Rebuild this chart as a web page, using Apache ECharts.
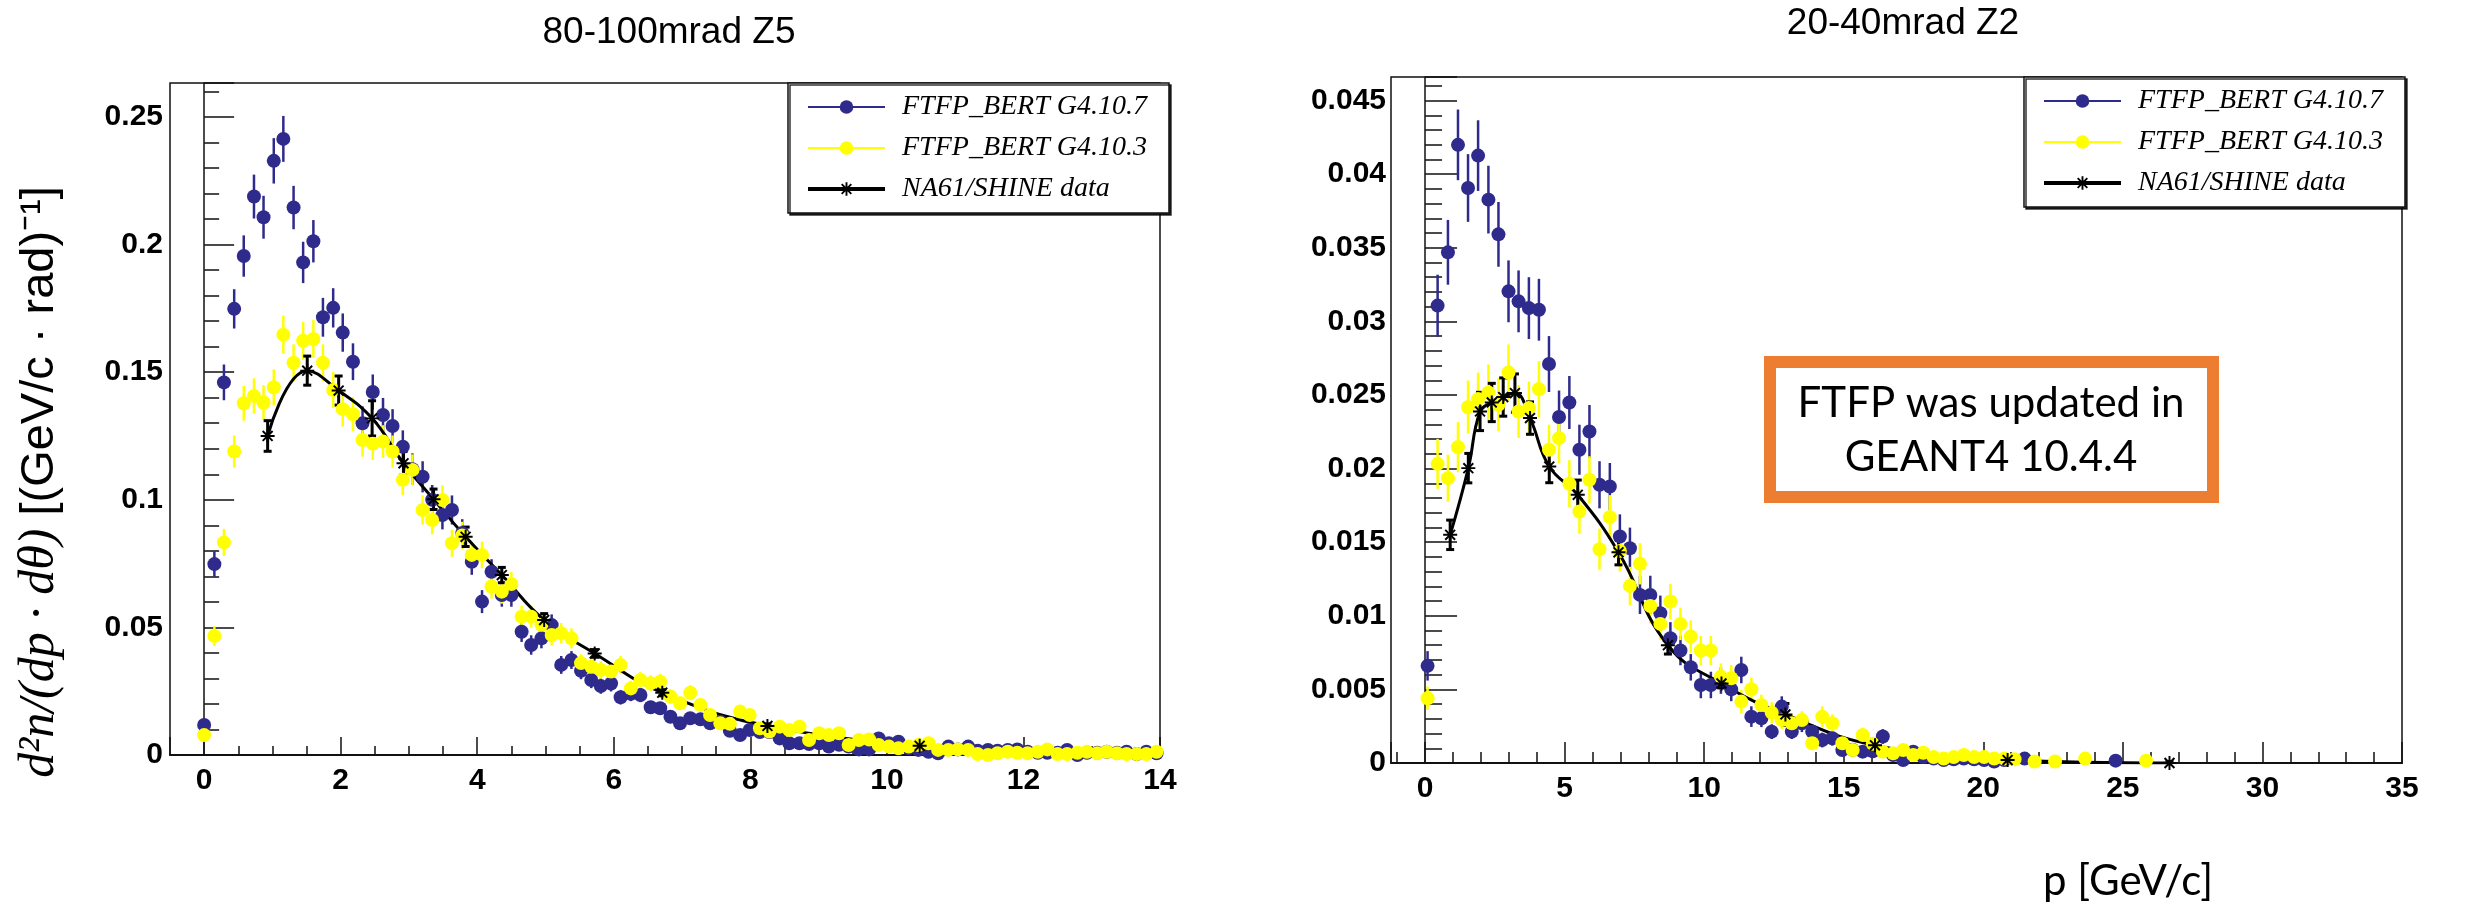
<!DOCTYPE html>
<html>
<head>
<meta charset="utf-8">
<title>FTFP_BERT vs NA61/SHINE</title>
<script src="https://cdn.jsdelivr.net/npm/echarts@6/dist/echarts.min.js"></script>
<style>
  html, body { margin: 0; padding: 0; background: #ffffff; }
  #chart { width: 2484px; height: 904px; }
</style>
</head>
<body>
<div id="chart"></div>
<script>
// ---------- 80-100 mrad, Z5 slice ----------
const pLeft = [0.00,0.15,0.29,0.44,0.58,0.73,0.87,1.02,1.16,1.31,1.45,1.60,1.74,1.89,2.03,2.18,2.32,2.47,2.62,2.76,
  2.91,3.05,3.20,3.34,3.49,3.63,3.78,3.92,4.07,4.21,4.36,4.50,4.65,4.79,4.94,5.09,5.23,5.38,5.52,5.67,
  5.81,5.96,6.10,6.25,6.39,6.54,6.68,6.83,6.97,7.12,7.27,7.41,7.56,7.70,7.85,7.99,8.14,8.28,8.43,8.57,
  8.72,8.86,9.01,9.15,9.30,9.44,9.59,9.74,9.88,10.03,10.17,10.32,10.46,10.61,10.75,10.90,11.04,11.19,11.33,11.48,
  11.62,11.77,11.91,12.06,12.21,12.35,12.50,12.64,12.79,12.93,13.08,13.22,13.37,13.51,13.66,13.80,13.95];

const g4107Left = [0.0118,0.0748,0.146,0.1748,0.1955,0.2188,0.2107,0.2328,0.2414,0.2145,0.193,0.2013,0.1715,0.1752,0.1655,0.1541,0.130,0.1422,0.1332,0.1289,
  0.1208,0.112,0.109,0.100,0.094,0.096,0.087,0.0757,0.0601,0.0718,0.0627,0.0627,0.0483,0.0431,0.0457,0.0509,0.0353,0.0372,0.033,0.0294,
  0.027,0.028,0.0226,0.024,0.0235,0.0187,0.0183,0.015,0.0124,0.0144,0.014,0.0124,0.013,0.0095,0.0078,0.0098,0.009,0.009,0.0065,0.0046,
  0.0046,0.0043,0.0046,0.0033,0.004,0.0033,0.0022,0.0022,0.0065,0.0046,0.0052,0.0026,0.002,0.0013,0.0007,0.0033,0.0022,0.0033,0.0017,0.002,
  0.0017,0.002,0.0022,0.0013,0.0009,0.0009,0.0009,0.002,0.0,0.0009,0.0009,0.0013,0.0009,0.0013,0.0004,0.0013,0.0007];

const g4107LeftErr = [0.0020,0.0050,0.0070,0.0077,0.0081,0.0086,0.0084,0.0089,0.0090,0.0085,0.0081,0.0083,0.0076,0.0077,0.0075,0.0072,0.0066,0.0069,0.0067,0.0066,
  0.0064,0.0062,0.0061,0.0058,0.0056,0.0057,0.0054,0.0051,0.0045,0.0049,0.0046,0.0046,0.0040,0.0038,0.0039,0.0042,0.0035,0.0035,0.0033,0.0032,
  0.0030,0.0031,0.0028,0.0029,0.0028,0.0025,0.0025,0.0023,0.0020,0.0022,0.0022,0.0020,0.0021,0.0018,0.0016,0.0018,0.0017,0.0017,0.0015,0.0012,
  0.0012,0.0012,0.0012,0.0011,0.0012,0.0011,0.0009,0.0009,0.0015,0.0012,0.0013,0.0009,0.0008,0.0007,0.0005,0.0011,0.0009,0.0011,0.0008,0.0008,
  0.0008,0.0008,0.0009,0.0007,0.0006,0.0006,0.0006,0.0008,0.0003,0.0006,0.0006,0.0007,0.0006,0.0007,0.0004,0.0007,0.0005];

const g4103Left = [0.0078,0.0466,0.0833,0.1189,0.1378,0.1407,0.1381,0.1441,0.1647,0.1537,0.1623,0.163,0.1537,0.143,0.1355,0.1335,0.1234,0.122,0.1228,0.1189,
  0.1078,0.1117,0.096,0.0921,0.0999,0.083,0.086,0.0784,0.0784,0.066,0.064,0.067,0.0542,0.0542,0.051,0.047,0.0477,0.0457,0.036,0.0346,
  0.0333,0.0327,0.0353,0.0261,0.0294,0.0281,0.0287,0.0229,0.0203,0.0244,0.0196,0.0157,0.0124,0.0122,0.017,0.0157,0.0105,0.0092,0.0111,0.0098,
  0.0111,0.0059,0.0085,0.0078,0.0085,0.0039,0.0059,0.0061,0.0039,0.0033,0.0026,0.0033,0.0039,0.0046,0.002,0.002,0.0022,0.002,0.0004,0.0,
  0.0007,0.0013,0.0009,0.0007,0.0013,0.0022,0.0004,0.0004,0.0009,0.0013,0.0007,0.0013,0.0007,0.0004,0.0004,0.0004,0.0013];

const g4103LeftErr = [0.0016,0.0039,0.0053,0.0063,0.0068,0.0069,0.0068,0.0070,0.0075,0.0072,0.0074,0.0074,0.0072,0.0070,0.0068,0.0067,0.0065,0.0064,0.0064,0.0063,
  0.0060,0.0061,0.0057,0.0056,0.0058,0.0053,0.0054,0.0052,0.0052,0.0047,0.0047,0.0048,0.0043,0.0043,0.0042,0.0040,0.0040,0.0039,0.0035,0.0034,
  0.0034,0.0033,0.0035,0.0030,0.0032,0.0031,0.0031,0.0028,0.0026,0.0029,0.0026,0.0023,0.0020,0.0020,0.0024,0.0023,0.0019,0.0018,0.0019,0.0018,
  0.0019,0.0014,0.0017,0.0016,0.0017,0.0011,0.0014,0.0014,0.0011,0.0011,0.0009,0.0011,0.0011,0.0012,0.0008,0.0008,0.0009,0.0008,0.0004,0.0003,
  0.0005,0.0007,0.0006,0.0005,0.0007,0.0009,0.0004,0.0004,0.0006,0.0007,0.0005,0.0007,0.0005,0.0004,0.0004,0.0004,0.0007];

const na61LeftP   = [0.93,1.51,1.97,2.46,2.92,3.36,3.83,4.36,4.98,5.72,6.71,8.25,10.48];
const na61Left    = [0.125,0.1506,0.1428,0.1319,0.1143,0.1002,0.0855,0.0705,0.0529,0.0398,0.0244,0.0114,0.0036];
const na61LeftErr = [0.0060,0.0057,0.0057,0.0069,0.0046,0.0040,0.0038,0.0030,0.0025,0.0015,0.0012,0.0008,0.0006];

// ---------- 20-40 mrad, Z2 slice ----------
const pRight = [0.09,0.45,0.82,1.18,1.54,1.90,2.27,2.63,2.99,3.35,3.72,4.08,4.44,4.80,5.17,5.53,5.89,6.25,6.62,6.98,
  7.34,7.70,8.07,8.43,8.79,9.15,9.52,9.88,10.24,10.60,10.97,11.33,11.69,12.05,12.42,12.78,13.14,13.50,13.87,14.23,
  14.59,14.95,15.32,15.68,16.04,16.40,16.77,17.13,17.49,17.85,18.22,18.58,18.94,19.30,19.67,20.03,20.39,20.75,21.12,21.48,
  21.84,22.20,22.57,22.93,23.29,23.65,24.02,24.38,24.74,25.10,25.47,25.83];

const g4107Right = [0.0066,0.03107,0.03469,0.04199,0.03906,0.04126,0.03827,0.03591,0.03204,0.03136,
  0.0309,0.03079,0.0271,0.0235,0.02449,0.02128,0.02252,0.0189,0.01878,0.01539,
  0.01459,0.01142,0.01142,0.01017,0.00847,0.00764,0.0065,0.0053,0.0053,0.0056,
  0.0050,0.00632,0.00315,0.00304,0.00213,0.00383,0.00213,0.0027,0.00213,0.00156,
  0.00168,0.00088,0.0009,0.00077,0.0008,0.0018,0.00054,0.0002,0.00077,0.0004,
  0.0003,0.0002,0.00025,0.0003,0.00025,0.0002,0.0001,0.0002,null,0.0003,
  null,null,null,null,null,null,null,null,0.00016,null,
  null,null];

const g4107RightErr = [0.0010,0.0021,0.0022,0.0024,0.0023,0.0024,0.0023,0.0022,0.0021,0.0021,
  0.0021,0.0021,0.0019,0.0018,0.0018,0.0017,0.0018,0.0016,0.0016,0.0015,
  0.0014,0.0013,0.0013,0.0012,0.0011,0.0010,0.0009,0.0009,0.0009,0.0009,
  0.0008,0.0009,0.0007,0.0006,0.0005,0.0007,0.0005,0.0006,0.0005,0.0005,
  0.0005,0.0003,0.0004,0.0003,0.0003,0.0005,0.0003,0.0002,0.0003,0.0002,
  0.0002,0.0002,0.0002,0.0002,0.0002,0.0002,0.0001,0.0002,null,0.0002,
  null,null,null,null,null,null,null,null,0.0001,null,
  null,null];

const g4103Right = [0.0044,0.02032,0.01935,0.02146,0.02418,0.02472,0.02517,0.02434,0.02653,0.02388,
  0.02411,0.0254,0.02128,0.02207,0.01897,0.01708,0.01924,0.01452,0.0167,0.0144,
  0.01203,0.01353,0.01067,0.00945,0.01097,0.00945,0.00859,0.00764,0.00764,0.00587,
  0.00576,0.00417,0.00501,0.00394,0.00342,0.00292,0.0027,0.00292,0.00134,0.00315,
  0.0027,0.00134,0.00088,0.0019,0.0013,0.00077,0.00066,0.00088,0.00054,0.0007,
  0.0004,0.0003,0.0004,0.00054,0.0004,0.0004,0.0003,0.0003,0.00025,null,
  0.0001,null,0.0001,null,null,0.0003,null,null,null,null,
  null,0.00016];

const g4103RightErr = [0.0008,0.0017,0.0016,0.0017,0.0018,0.0018,0.0019,0.0018,0.0019,0.0018,
  0.0018,0.0019,0.0017,0.0017,0.0016,0.0015,0.0016,0.0014,0.0015,0.0014,
  0.0013,0.0014,0.0012,0.0011,0.0012,0.0011,0.0011,0.0010,0.0010,0.0009,
  0.0009,0.0008,0.0008,0.0007,0.0007,0.0006,0.0006,0.0006,0.0004,0.0007,
  0.0006,0.0004,0.0003,0.0005,0.0004,0.0003,0.0003,0.0003,0.0003,0.0003,
  0.0002,0.0002,0.0002,0.0003,0.0002,0.0002,0.0002,0.0002,0.0002,null,
  0.0001,null,0.0001,null,null,0.0002,null,null,null,null,
  null,0.0001];

const na61RightP   = [0.90,1.55,1.97,2.39,2.80,3.22,3.76,4.45,5.47,6.93,8.70,10.62,12.91,16.12,20.87,26.67];
const na61Right    = [0.0155,0.02003,0.02388,0.02449,0.02486,0.02513,0.02343,0.02014,0.01822,0.01431,0.0080,0.0054,0.0033,0.0012,0.0002,0.0];
const na61RightErr = [0.0010,0.0010,0.0013,0.0013,0.0013,0.0013,0.0011,0.0011,0.0010,0.00085,0.0006,0.0003,0.00074,0.0003,0.0001,0.0001];

// ---------- labels ----------
const titles = ['80-100mrad Z5', '20-40mrad Z2'];
const names = ['FTFP_BERT G4.10.7', 'FTFP_BERT G4.10.3', 'NA61/SHINE data'];

// ---------- styling ----------
const BLUE = '#2f2b8c';
const YELLOW = '#ffff00';
const BLACK = '#000000';
const STAR = 'path://M-1.4,-10L1.4,-10L1.4,10L-1.4,10Z M-10,-1.4L10,-1.4L10,1.4L-10,1.4Z M-8.06,-6.08L-6.08,-8.06L8.06,6.08L6.08,8.06Z M-8.06,6.08L6.08,-8.06L8.06,-6.08L-6.08,8.06Z';
const LABEL_FONT = { fontFamily: 'Liberation Sans', fontWeight: 'bold', fontSize: 30, color: '#000' };

function pairs(xs, ys) {
  const out = [];
  xs.forEach((x, i) => { if (ys[i] != null) out.push([x, ys[i]]); });
  return out;
}
function errPairs(xs, ys, es) {
  const out = [];
  xs.forEach((x, i) => { if (ys[i] != null) out.push([x, ys[i] - es[i], ys[i] + es[i]]); });
  return out;
}
function isMultiple(v, step) {
  const r = v / step;
  return Math.abs(r - Math.round(r)) < 1e-6;
}

function errorSeries(xi, yi, data, color, width, capHalf) {
  return {
    type: 'custom', xAxisIndex: xi, yAxisIndex: yi, clip: true, silent: true,
    data: data,
    encode: { x: 0, y: [1, 2] },
    renderItem: function (params, api) {
      const x = api.value(0);
      const lo = api.coord([x, api.value(1)]);
      const hi = api.coord([x, api.value(2)]);
      const style = { stroke: color, lineWidth: width };
      const children = [{ type: 'line', shape: { x1: lo[0], y1: lo[1], x2: hi[0], y2: hi[1] }, style: style }];
      if (capHalf) {
        children.push({ type: 'line', shape: { x1: lo[0] - capHalf, y1: lo[1], x2: lo[0] + capHalf, y2: lo[1] }, style: style });
        children.push({ type: 'line', shape: { x1: hi[0] - capHalf, y1: hi[1], x2: hi[0] + capHalf, y2: hi[1] }, style: style });
      }
      return { type: 'group', children: children };
    }
  };
}

function pointSeries(name, xi, yi, data, color) {
  return {
    type: 'line', name: name, xAxisIndex: xi, yAxisIndex: yi, data: data,
    symbol: 'circle', symbolSize: 14, showSymbol: true, showAllSymbol: true,
    lineStyle: { color: color, width: 0 }, itemStyle: { color: color },
    emphasis: { disabled: true }, silent: true
  };
}

function curveSeries(xi, yi, data) {
  return {
    type: 'line', name: names[2], xAxisIndex: xi, yAxisIndex: yi, data: data,
    smooth: 0.45, symbol: STAR, symbolSize: 14, showSymbol: true,
    lineStyle: { color: BLACK, width: 3 }, itemStyle: { color: BLACK },
    emphasis: { disabled: true }, silent: true
  };
}

// two x axes per panel: fine ticks (also carries the data) and labelled main ticks
function xAxes(grid, min, max, fineSplit, mainSplit, fineLen, mainLen) {
  return [
    { type: 'value', gridIndex: grid, position: 'bottom', min: min, max: max, splitNumber: fineSplit,
      axisLine: { show: true, lineStyle: { color: '#111', width: 2 } },
      axisTick: { show: true, inside: true, length: fineLen, lineStyle: { color: '#111', width: 1.5 } },
      axisLabel: { show: false }, splitLine: { show: false } },
    { type: 'value', gridIndex: grid, position: 'bottom', min: min, max: max, splitNumber: mainSplit,
      axisLine: { show: false },
      axisTick: { show: true, inside: true, length: mainLen, lineStyle: { color: '#111', width: 1.5 } },
      axisLabel: Object.assign({ show: true, margin: 11, formatter: v => (Number.isInteger(v) ? String(v) : '') }, LABEL_FONT),
      splitLine: { show: false } }
  ];
}
function yAxes(grid, max, fine, main, fineLen, mainLen, margin) {
  return [
    { type: 'value', gridIndex: grid, position: 'left', min: 0, max: max, interval: fine,
      axisLine: { show: true, lineStyle: { color: '#111', width: 1.5 } },
      axisTick: { show: true, inside: true, length: fineLen, lineStyle: { color: '#111', width: 1.5 } },
      axisLabel: { show: false }, splitLine: { show: false } },
    { type: 'value', gridIndex: grid, position: 'left', min: 0, max: max, interval: main,
      axisLine: { show: false },
      axisTick: { show: true, inside: true, length: mainLen, lineStyle: { color: '#111', width: 1.5 } },
      axisLabel: Object.assign({ show: true, margin: margin,
        formatter: v => (isMultiple(v, main) ? String(+v.toFixed(4)) : '') }, LABEL_FONT),
      splitLine: { show: false } }
  ];
}

function legendBox(left, top) {
  return {
    left: left, top: top, orient: 'vertical', selectedMode: false,
    itemWidth: 77, itemHeight: 17, itemGap: 13,
    padding: [10, 22, 10, 18],
    backgroundColor: '#ffffff', borderColor: '#111', borderWidth: 1.5, borderRadius: 0,
    shadowColor: 'rgba(0,0,0,0.8)', shadowOffsetX: 2, shadowOffsetY: 2, shadowBlur: 0,
    textStyle: { fontFamily: 'Liberation Serif', fontStyle: 'italic', fontSize: 28, color: '#000', padding: [0, 0, 0, 12] },
    data: [
      { name: names[0], lineStyle: { width: 2, opacity: 1 } },
      { name: names[1], lineStyle: { width: 2, opacity: 1 } },
      { name: names[2], lineStyle: { width: 4, opacity: 1 } }
    ]
  };
}

const chart = echarts.init(document.getElementById('chart'), null, { renderer: 'canvas' });

const option = {
  animation: false,
  backgroundColor: '#ffffff',
  title: [
    { text: titles[0], left: 664, top: 9, textAlign: 'center',
      textStyle: { fontFamily: 'Liberation Sans', fontWeight: 'normal', fontSize: 37, color: '#000' } },
    { text: titles[1], left: 1898, top: 0, textAlign: 'center',
      textStyle: { fontFamily: 'Liberation Sans', fontWeight: 'normal', fontSize: 37, color: '#000' } }
  ],
  grid: [
    { left: 170, top: 83, width: 990, height: 672, show: true, borderColor: '#111', borderWidth: 1.5, backgroundColor: 'transparent' },
    { left: 1391, top: 77, width: 1011, height: 686, show: true, borderColor: '#111', borderWidth: 1.5, backgroundColor: 'transparent' }
  ],
  xAxis: [].concat(
    xAxes(0, -0.5, 14, 29, 7, 9, 18),
    xAxes(1, -1.22, 35, 36, 7, 11, 21)
  ),
  yAxis: [].concat(
    yAxes(0, 0.2633, 0.01, 0.05, 15, 30, 7),
    yAxes(1, 0.0466, 0.001, 0.005, 17, 32, 5)
  ),
  legend: [legendBox(788, 83), legendBox(2024, 77)],
  series: [
    // left panel
    errorSeries(0, 0, errPairs(pLeft, g4107Left, g4107LeftErr), BLUE, 2.5, 0),
    pointSeries(names[0], 0, 0, pairs(pLeft, g4107Left), BLUE),
    errorSeries(0, 0, errPairs(pLeft, g4103Left, g4103LeftErr), YELLOW, 2.5, 0),
    pointSeries(names[1], 0, 0, pairs(pLeft, g4103Left), YELLOW),
    errorSeries(0, 0, errPairs(na61LeftP, na61Left, na61LeftErr), BLACK, 3, 4),
    curveSeries(0, 0, pairs(na61LeftP, na61Left)),
    // right panel
    errorSeries(2, 2, errPairs(pRight, g4107Right, g4107RightErr), BLUE, 2.5, 0),
    pointSeries(names[0], 2, 2, pairs(pRight, g4107Right), BLUE),
    errorSeries(2, 2, errPairs(pRight, g4103Right, g4103RightErr), YELLOW, 2.5, 0),
    pointSeries(names[1], 2, 2, pairs(pRight, g4103Right), YELLOW),
    errorSeries(2, 2, errPairs(na61RightP, na61Right, na61RightErr), BLACK, 3, 4),
    curveSeries(2, 2, pairs(na61RightP, na61Right))
  ],
  graphic: [
    { type: 'text', x: 40, y: 482, rotation: Math.PI / 2, silent: true,
      style: {
        text: '{m|d²n/(dp · dθ)}{s| [(GeV/c · rad)⁻¹]}',
        align: 'center', verticalAlign: 'middle',
        rich: {
          m: { fontFamily: 'Liberation Serif', fontStyle: 'italic', fontSize: 50, fill: '#000' },
          s: { fontFamily: 'Liberation Sans', fontSize: 47, fill: '#000' }
        }
      } },
    { type: 'rect', silent: true, z: 100,
      shape: { x: 1770, y: 362, width: 443, height: 135 },
      style: { fill: '#ffffff', stroke: '#ed7d31', lineWidth: 12 } },
    { type: 'text', x: 1991, y: 430, silent: true, z: 101,
      style: { text: 'FTFP was updated in\nGEANT4 10.4.4', fontFamily: 'Lato', fontSize: 42,
        lineHeight: 54, fill: '#000', align: 'center', verticalAlign: 'middle' } },
    { type: 'text', x: 2128, y: 881, silent: true,
      style: { text: 'p [GeV/c]', fontFamily: 'Lato', fontSize: 42, fill: '#000',
        align: 'center', verticalAlign: 'middle' } }
  ]
};

chart.setOption(option);
</script>
</body>
</html>
